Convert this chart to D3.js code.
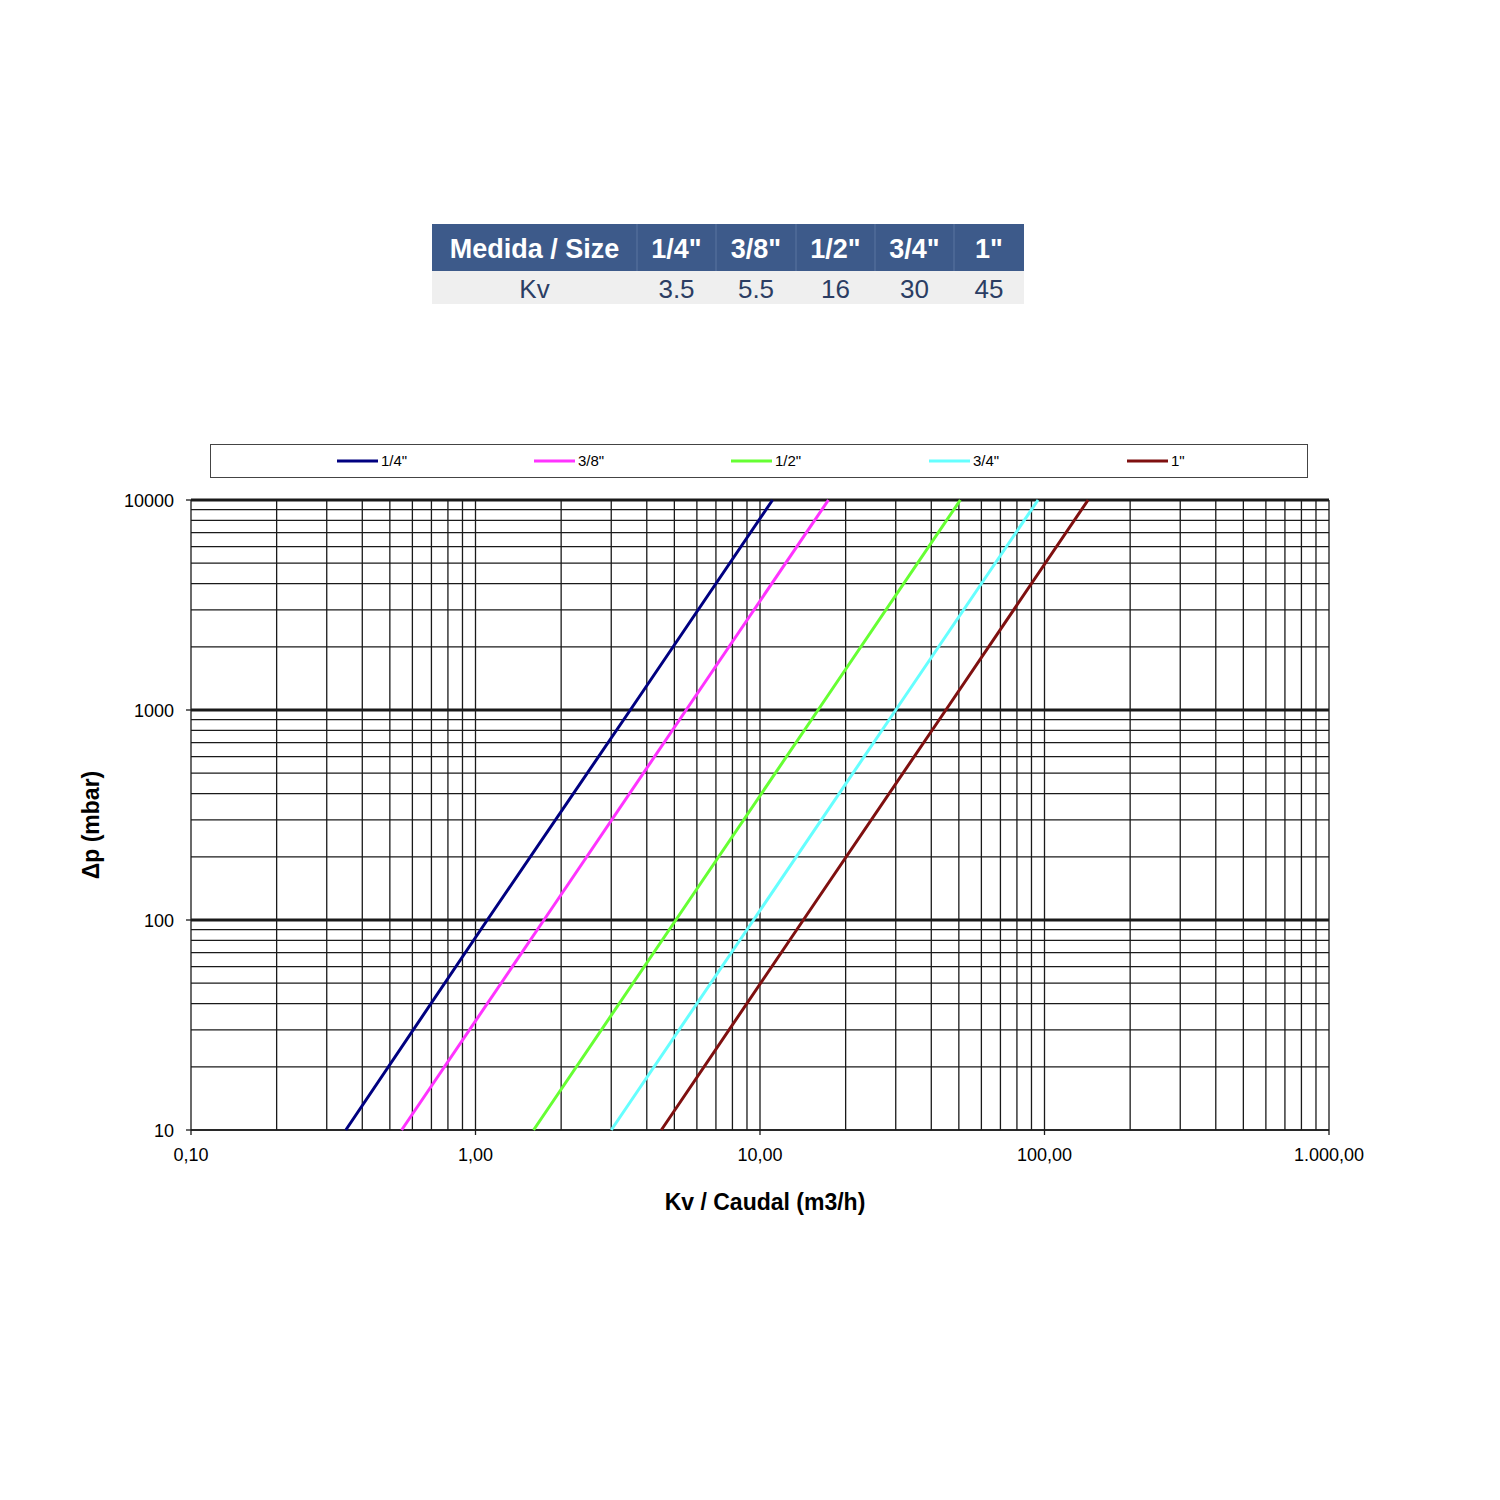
<!DOCTYPE html>
<html><head><meta charset="utf-8">
<script src="https://cdn.jsdelivr.net/npm/d3@7"></script>
<style>body{margin:0;background:#fff;} svg{display:block;font-family:"Liberation Sans",Arial,sans-serif;}</style>
</head><body>
<svg id="c" width="1500" height="1500"></svg>
<script>
// ---- data ----
const sizes = ['1/4"', '3/8"', '1/2"', '3/4"', '1"'];
const kvValues = ['3.5', '5.5', '16', '30', '45'];
const colors = ['#000080', '#FF33FF', '#66FF33', '#66FFFF', '#7F1010'];
const dpPoints = [10, 100, 1000, 10000];          // mbar
const flow14 = [0.35, 1.1, 3.5, 11.07];
const flow38 = [0.55, 1.74, 5.5, 17.4];
const flow12 = [1.6, 5.06, 16, 50.6];
const flow34 = [3.0, 9.49, 30, 94.9];
const flow1  = [4.5, 14.2, 45, 142.3];
const flows = [flow14, flow38, flow12, flow34, flow1];
const xTickLabels = ['0,10', '1,00', '10,00', '100,00', '1.000,00'];
const xTickValues = [0.1, 1, 10, 100, 1000];
const yTickValues = [10, 100, 1000, 10000];
const yTickLabels = ['10', '100', '1000', '10000'];

const svg = d3.select('#c');

// ---- table ----
const tbl = svg.append('g');
const colEdges = [432, 637, 716, 796, 875, 954, 1024];
const hdr = ['Medida / Size'].concat(sizes);
const row = ['Kv'].concat(kvValues);
tbl.append('rect').attr('x', 432).attr('y', 224).attr('width', 592).attr('height', 47).attr('fill', '#3D5A8A');
tbl.append('rect').attr('x', 432).attr('y', 271).attr('width', 592).attr('height', 33).attr('fill', '#EFEFEF');
for (let i = 1; i < colEdges.length - 1; i++) {
  tbl.append('line').attr('x1', colEdges[i]).attr('x2', colEdges[i]).attr('y1', 224).attr('y2', 271)
    .attr('stroke', '#5A74A0').attr('stroke-width', 1);
}
hdr.forEach((t, i) => {
  const cx = (colEdges[i] + colEdges[i + 1]) / 2;
  tbl.append('text').attr('x', cx).attr('y', 258).attr('text-anchor', 'middle')
    .attr('font-size', 27).attr('font-weight', 'bold').attr('fill', '#fff').text(t);
});
row.forEach((t, i) => {
  const cx = (colEdges[i] + colEdges[i + 1]) / 2;
  tbl.append('text').attr('x', cx).attr('y', 298).attr('text-anchor', 'middle')
    .attr('font-size', 26).attr('fill', '#2B3D63').text(t);
});

// ---- chart ----
const L = 191, R = 1329, T = 500, B = 1130;
const x = d3.scaleLog().domain([0.1, 1000]).range([L, R]);
const y = d3.scaleLog().domain([10, 10000]).range([B, T]);

const g = svg.append('g');
const xs = [], ys = [];
for (let d = 0.1; d < 1000; d *= 10) for (let m = 1; m <= 10; m++) xs.push(+(d * m).toPrecision(3));
for (let d = 10; d < 10000; d *= 10) for (let m = 1; m <= 10; m++) ys.push(+(d * m).toPrecision(3));
const xsU = Array.from(new Set(xs)), ysU = Array.from(new Set(ys));

g.selectAll('.vg').data(xsU).join('line')
  .attr('x1', d => x(d)).attr('x2', d => x(d)).attr('y1', T).attr('y2', B)
  .attr('stroke', '#1a1a1a').attr('stroke-width', 1.3);
g.selectAll('.hg').data(ysU).join('line')
  .attr('x1', L).attr('x2', R).attr('y1', d => y(d)).attr('y2', d => y(d))
  .attr('stroke', '#1a1a1a').attr('stroke-width', d => (d === 100 || d === 1000 || d === 10000) ? 3 : 1.3);
g.append('line').attr('x1', L).attr('x2', R).attr('y1', B).attr('y2', B).attr('stroke', '#1a1a1a').attr('stroke-width', 1.5);
g.selectAll('.xt').data(xTickValues).join('line')
  .attr('x1', d => x(d)).attr('x2', d => x(d)).attr('y1', B).attr('y2', B + 5)
  .attr('stroke', '#1a1a1a').attr('stroke-width', 1.3);
g.selectAll('.yt').data(yTickValues).join('line')
  .attr('x1', L - 5).attr('x2', L).attr('y1', d => y(d)).attr('y2', d => y(d))
  .attr('stroke', '#1a1a1a').attr('stroke-width', 1.3);

// curves
const line = d3.line().x(d => x(d[0])).y(d => y(d[1]));
flows.forEach((f, i) => {
  const pts = f.map((q, j) => [q, dpPoints[j]]);
  g.append('path').attr('d', line(pts)).attr('fill', 'none')
    .attr('stroke', colors[i]).attr('stroke-width', 3);
});

// tick labels
g.selectAll('.xl').data(xTickValues).join('text')
  .attr('x', d => x(d)).attr('y', 1161).attr('text-anchor', 'middle')
  .attr('font-size', 18).attr('fill', '#000').text((d, i) => xTickLabels[i]);
g.selectAll('.yl').data(yTickValues).join('text')
  .attr('x', 174).attr('y', d => y(d) + 7).attr('text-anchor', 'end')
  .attr('font-size', 18).attr('fill', '#000').text((d, i) => yTickLabels[i]);

// axis titles
svg.append('text').attr('x', 765).attr('y', 1210).attr('text-anchor', 'middle')
  .attr('font-size', 23).attr('font-weight', 'bold').text('Kv / Caudal (m3/h)');
svg.append('text').attr('transform', 'translate(99,825) rotate(-90)').attr('text-anchor', 'middle')
  .attr('font-size', 23).attr('font-weight', 'bold').text('Δp (mbar)');

// legend
const lg = svg.append('g');
lg.append('rect').attr('x', 210.5).attr('y', 444.5).attr('width', 1097).attr('height', 33)
  .attr('fill', '#fff').attr('stroke', '#444').attr('stroke-width', 1);
const legX = [337, 534, 731, 929, 1127];
sizes.forEach((s, i) => {
  lg.append('line').attr('x1', legX[i]).attr('x2', legX[i] + 41).attr('y1', 461).attr('y2', 461)
    .attr('stroke', colors[i]).attr('stroke-width', 3);
  lg.append('text').attr('x', legX[i] + 44).attr('y', 466).attr('font-size', 15).text(s);
});
</script>
</body></html>
